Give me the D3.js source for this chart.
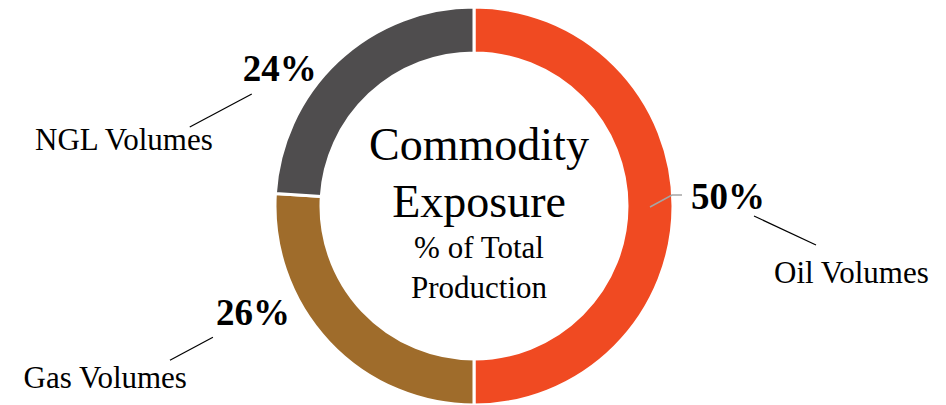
<!DOCTYPE html>
<html>
<head>
<meta charset="utf-8">
<script src="https://cdn.jsdelivr.net/npm/d3@7"></script>
<style>
  html, body { margin: 0; padding: 0; background: #fff; }
</style>
</head>
<body>
<div id="chart"></div>
<script>
(function() {
    var width = 946;
    var height = 405;
    var serif = "'Liberation Serif', 'Times New Roman', serif";

    // data
    var categories = ["Oil Volumes", "Gas Volumes", "NGL Volumes"];
    var values = [50, 26, 24];
    var colors = ["#F04A22", "#9F6C2B", "#4F4D4E"];
    var titleLines = ["Commodity", "Exposure"];
    var subtitleLines = ["% of Total", "Production"];

    // label layout: offsets relative to the outer edge at each slice's mid angle
    var pctOffset = [[18, 3], [-39, -17], [-21, 20]];
    var nameOffset = [[101, 77], [-142, 46], [-125, 89]];
    var lineFrom = [[81, 10], [-116, -5], [-86, 33]];
    var lineTo = [[143, 39], [-159, 18], [-148, 66]];

    var cx = 474, cy = 206;
    var outerR = 199, innerR = 153;

    var svg = d3.select("#chart").append("svg")
        .attr("width", width)
        .attr("height", height);

    var g = svg.append("g").attr("transform", "translate(" + cx + "," + cy + ")");

    var pie = d3.pie().sort(null).value(function(d) { return d; });
    var arcs = pie(values);

    var arc = d3.arc().innerRadius(innerR).outerRadius(outerR);

    g.selectAll("path.slice")
        .data(arcs)
        .enter().append("path")
        .attr("class", "slice")
        .attr("d", arc)
        .style("fill", function(d, i) { return colors[i]; })
        .style("stroke", "#fff")
        .style("stroke-width", 3);

    function edge(d) {
        var a = (d.startAngle + d.endAngle) / 2;
        return [Math.sin(a) * outerR, -Math.cos(a) * outerR];
    }

    // gray leader for the first slice
    var c0 = arc.centroid(arcs[0]);
    var e0 = edge(arcs[0]);
    g.append("path")
        .attr("d", d3.line()([[c0[0], c0[1] + 1], [e0[0] - 1, e0[1] - 11], [e0[0] + 9, e0[1] - 11]]))
        .style("fill", "none")
        .style("stroke", "#A5A5A5")
        .style("stroke-width", 1.5);

    arcs.forEach(function(d, i) {
        var p = edge(d);
        var right = i === 0;
        g.append("text")
            .attr("x", p[0] + pctOffset[i][0])
            .attr("y", p[1] + pctOffset[i][1])
            .attr("text-anchor", right ? "start" : "end")
            .attr("font-family", serif)
            .attr("font-size", 37)
            .attr("font-weight", "bold")
            .text(values[i] + "%");

        g.append("line")
            .attr("x1", p[0] + lineFrom[i][0]).attr("y1", p[1] + lineFrom[i][1])
            .attr("x2", p[0] + lineTo[i][0]).attr("y2", p[1] + lineTo[i][1])
            .style("stroke", "#000")
            .style("stroke-width", 1.2);

        g.append("text")
            .attr("x", p[0] + nameOffset[i][0])
            .attr("y", p[1] + nameOffset[i][1])
            .attr("text-anchor", right ? "start" : "end")
            .attr("font-family", serif)
            .attr("font-size", 31)
            .text(categories[i]);
    });

    // centre title
    var tx = 5;
    titleLines.forEach(function(t, i) {
        g.append("text")
            .attr("x", tx)
            .attr("y", -46 + i * 57)
            .attr("text-anchor", "middle")
            .attr("font-family", serif)
            .attr("font-size", 46)
            .text(t);
    });
    subtitleLines.forEach(function(t, i) {
        g.append("text")
            .attr("x", tx)
            .attr("y", 52 + i * 40)
            .attr("text-anchor", "middle")
            .attr("font-family", serif)
            .attr("font-size", 31)
            .text(t);
    });
})();
</script>
</body>
</html>
